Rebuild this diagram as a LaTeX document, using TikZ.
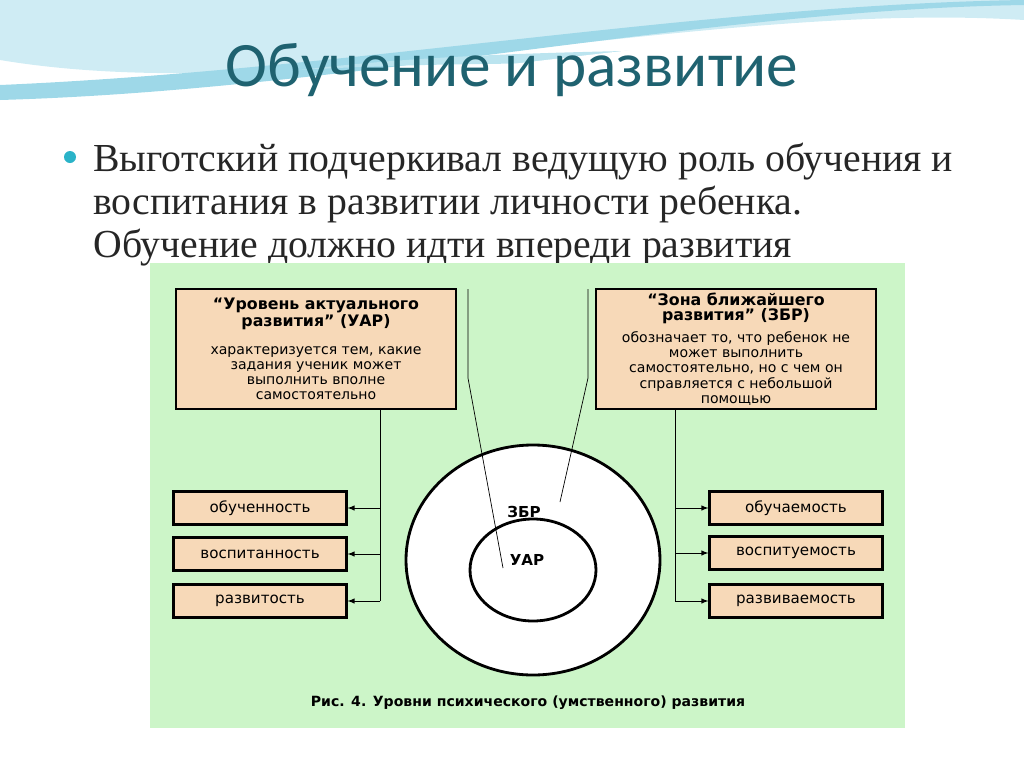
\documentclass[tikz,border=0pt]{standalone}
\usepackage{fontspec}
\setmainfont{Liberation Serif}
\newfontfamily\titlefont{Carlito}
\newfontfamily\diafont{DejaVu Sans}
\usetikzlibrary{positioning,calc}
\definecolor{teal}{HTML}{1F6270}
\definecolor{panel}{HTML}{CCF5C8}
\definecolor{peach}{HTML}{F7D9B8}
\definecolor{wave}{HTML}{9ED8E8}
\definecolor{dot}{HTML}{2AB3C8}

\begin{document}
\begin{tikzpicture}
                    [x=0.2mm,y=-0.2mm,>=latex,
                    box/.style={draw,very thick,fill=peach,align=center,font=\diafont\fontsize{8}{8.6}\selectfont,inner sep=0pt},
                    small/.style={draw,very thick,fill=peach,minimum width=34.6mm,minimum height=6.6mm,font=\diafont\fontsize{8.6}{9}\selectfont,inner sep=0pt}]

                    \useasboundingbox (0,0) rectangle (1024,767);

                    % top waves
                    \fill[wave!50] (0,60) .. controls (300,110) and (700,0) .. (1024,20) -- (1024,0) -- (0,0) -- cycle;
                    \fill[wave] (0,100) .. controls (350,90) and (700,10) .. (1024,5) -- (1024,0) .. controls (700,5) and (350,70) .. (0,85) -- cycle;
                    \fill[wave!70] (300,70) .. controls (550,40) and (800,60) .. (1024,30) -- (1024,40) .. controls (800,75) and (550,55) .. (300,70) -- cycle;
                    \fill[white] (0,108) .. controls (350,100) and (700,25) .. (1024,20) -- (1024,767) -- (0,767) -- cycle;

                    \node[font=\titlefont\fontsize{36}{40}\selectfont,text=teal] (title) at (512,70) {Обучение и развитие};
                    \fill[dot] (70,157) circle (6);
                    \node[anchor=north west,align=left,font=\fontsize{22.6}{24.4}\selectfont,inner sep=0pt,text=black!85] (text) at (93,143)
                    {Выготский подчеркивал ведущую роль обучения и\\воспитания в развитии личности ребенка.\\Обучение должно идти впереди развития};

                    % panel
                    \fill[panel] (150,263) rectangle (905,728);

                    \node[box,minimum width=56mm,minimum height=24mm] (uar) at (316,349)
                    {\fontsize{9}{9.4}\selectfont\textbf{“Уровень актуального}\\\fontsize{9}{9.4}\selectfont\textbf{развития” (УАР)}\\[2.6mm]характеризуется тем, какие\\задания ученик может\\выполнить вполне\\самостоятельно};
                    \node[box,minimum width=56mm,minimum height=24mm] (zbr) at (736,349)
                    {\fontsize{9}{9.4}\selectfont\textbf{“Зона ближайшего}\\\fontsize{9}{9.4}\selectfont\textbf{развития” (ЗБР)}\\[1.4mm]обозначает то, что ребенок не\\может выполнить\\самостоятельно, но с чем он\\справляется с небольшой\\помощью};

                    \draw[line width=1.6pt,fill=white] (533,560) ellipse [x radius=127,y radius=115];
                    \draw[line width=1.6pt] (533,570) ellipse [x radius=63,y radius=51];
                    \node[font=\diafont\bfseries\fontsize{8.6}{9}\selectfont] (lzbr) at (524,512) {ЗБР};
                    \node[font=\diafont\bfseries\fontsize{8.6}{9}\selectfont] (luar) at (527,560) {УАР};

                    \draw (468,289) -- (468,378) -- (503,568);
                    \draw (588,289) -- (588,378) -- (560,502);

                    \node[small] (a1) at (260,508) {обученность};
                    \node[small] (a2) at (260,554) {воспитанность};
                    \node[small] (a3) at (260,601) {развитость};
                    \node[small] (b1) at (796,508) {обучаемость};
                    \node[small] (b2) at (796,553) {воспитуемость};
                    \node[small] (b3) at (796,601) {развиваемость};

                    \draw (uar.south -| 380,0) -- (380,601);
                    \foreach \n in {a1,a2,a3}
                        \draw[->] (380,0 |- \n.east) -- (\n.east);
                    \draw (zbr.south -| 675,0) -- (675,601);
                    \foreach \n in {b1,b2,b3}
                        \draw[->] (675,0 |- \n.west) -- (\n.west);

                    \node[font=\diafont\bfseries\fontsize{8}{9}\selectfont] (caption) at (528,703)
                    {Рис. 4. Уровни психического (умственного) развития};
                \end{tikzpicture}
\end{document}
